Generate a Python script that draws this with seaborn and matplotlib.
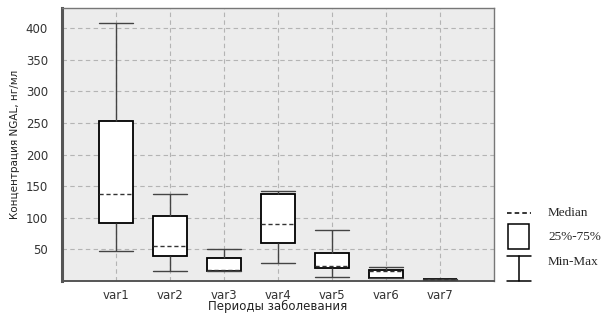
import pandas as pd
import seaborn as sns
import matplotlib.pyplot as plt
from matplotlib.lines import Line2D
from matplotlib.patches import Rectangle
from matplotlib.ticker import MultipleLocator, AutoMinorLocator

# box statistics: min, Q1, median, Q3, max
groups = ["var1", "var2", "var3", "var4", "var5", "var6", "var7"]
mins = [47, 16, 15, 28, 6, 4, 2]
q1 = [92, 40, 17, 60, 21, 5, 2.5]
medians = [138, 56, 16, 90, 24, 16, 3]
q3 = [253, 102, 37, 137, 44, 17, 3.2]
maxs = [408, 138, 50, 142, 80, 22, 3.6]

# five points per group give exactly these quartiles with whis=(0, 100)
rows = []
for g, a, b, c, d, e in zip(groups, mins, q1, medians, q3, maxs):
    for v in (a, b, c, d, e):
        rows.append({"group": g, "value": v})
df = pd.DataFrame(rows)

sns.set_style("white")
plt.rcParams['font.family'] = ['DejaVu Sans']

fig = plt.figure(figsize=(6.06, 3.16), dpi=100)
ax = fig.add_axes([0.102, 0.111, 0.713, 0.864])
ax.set_facecolor("#ececec")

sns.boxplot(data=df, x="group", y="value", order=groups, whis=(0, 100),
            width=0.62, capwidths=0.62, ax=ax, color="white", linecolor="black",
            linewidth=1.1, showfliers=False,
            boxprops=dict(facecolor="white", edgecolor="black", linewidth=1.3),
            whiskerprops=dict(color="#444444", linewidth=1.0),
            capprops=dict(color="#444444", linewidth=1.0),
            medianprops=dict(color="#333333", linestyle=(0, (3, 2)), linewidth=1.0),
            zorder=3)

ax.set_xlim(-1, 7)
ax.set_ylim(0, 432)
ax.set_yticks([50, 100, 150, 200, 250, 300, 350, 400])
ax.yaxis.set_minor_locator(AutoMinorLocator(4))
ax.xaxis.set_minor_locator(MultipleLocator(0.25))
ax.grid(True, which="major", color="#b4b4b4", linestyle=(0, (4, 3)), linewidth=0.8)
ax.set_axisbelow(True)

ax.tick_params(axis="both", which="major", labelsize=8.5, colors="#333333", length=0)
ax.tick_params(axis="x", which="major", pad=5.5)
ax.tick_params(axis="y", which="major", pad=10)
ax.tick_params(axis="both", which="minor", length=2.5, color="#777777",
               direction="out")

for s in ax.spines.values():
    s.set_color("#777777")
    s.set_linewidth(1.0)
ax.spines["left"].set_linewidth(2.2)
ax.spines["left"].set_color("#555555")
ax.spines["bottom"].set_linewidth(1.4)
ax.spines["bottom"].set_color("#555555")

ax.set_xlabel("Периоды заболевания", fontsize=8.5, color="#222222", labelpad=-1)
ax.set_ylabel("Концентрация NGAL, нг/мл", fontsize=7.5, color="#222222", labelpad=4)

# legend drawn at the right side of the figure
serif = ['Liberation Serif', 'DejaVu Serif']
W, H = 606.0, 316.0
fig.add_artist(Line2D([507 / W, 531 / W], [1 - 213 / H, 1 - 213 / H],
                      color="black", linestyle=(0, (3, 2)), linewidth=1.1))
fig.text(548 / W, 1 - 213 / H, "Median", fontsize=9.5, family=serif, va="center")
fig.add_artist(Rectangle((508 / W, 1 - 249 / H), 21 / W, 25 / H,
                         facecolor="white", edgecolor="black", linewidth=1.1))
fig.text(548 / W, 1 - 237 / H, "25%-75%", fontsize=9.5, family=serif, va="center")
fig.add_artist(Line2D([507 / W, 531 / W], [1 - 256 / H, 1 - 256 / H], color="black", linewidth=1.1))
fig.add_artist(Line2D([519 / W, 519 / W], [1 - 256 / H, 1 - 281 / H], color="black", linewidth=1.1))
fig.add_artist(Line2D([507 / W, 531 / W], [1 - 281 / H, 1 - 281 / H], color="black", linewidth=1.1))
fig.text(548 / W, 1 - 262 / H, "Min-Max", fontsize=9.5, family=serif, va="center")

fig.savefig("out.png", dpi=100)
